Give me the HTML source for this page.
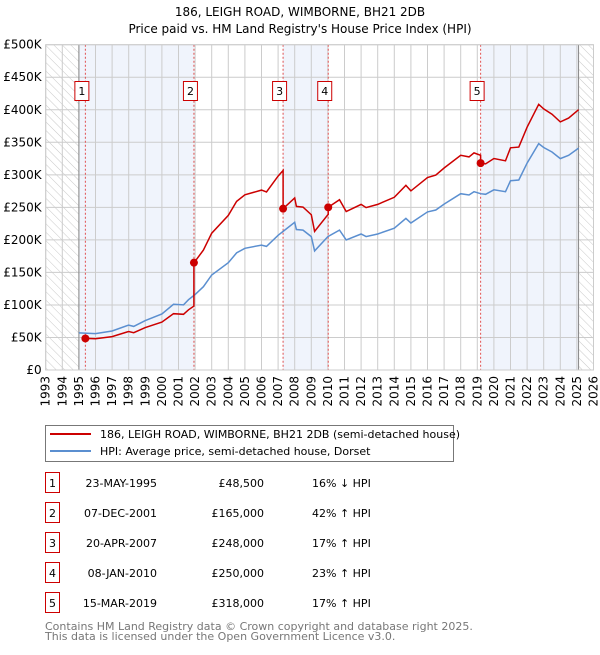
<!DOCTYPE html>
<html><head><meta charset="utf-8"><style>
body{margin:0;background:#fff;}
svg text{font-family:"DejaVu Sans","Liberation Sans",sans-serif;}
</style></head><body>
<svg id="c" width="600" height="650" viewBox="0 0 600 650" xmlns="http://www.w3.org/2000/svg">
<defs><pattern id="hatch" width="6" height="6" patternUnits="userSpaceOnUse" patternTransform="rotate(-45)"><line x1="0" y1="0" x2="0" y2="6" stroke="#bbb" stroke-width="0.8"/></pattern></defs>
<text x="300" y="16" text-anchor="middle" font-size="12">186, LEIGH ROAD, WIMBORNE, BH21 2DB</text>
<text x="300" y="33" text-anchor="middle" font-size="12">Price paid vs. HM Land Registry's House Price Index (HPI)</text>
<g id="plot"></g>
<g>
<rect x="45.5" y="425.5" width="408" height="36" fill="#fff" stroke="#777"/>
<line x1="50" y1="434" x2="91" y2="434" stroke="#cc0000" stroke-width="2"/>
<text x="100" y="438" font-size="11">186, LEIGH ROAD, WIMBORNE, BH21 2DB (semi-detached house)</text>
<line x1="50" y1="451" x2="91" y2="451" stroke="#5b8fd0" stroke-width="2"/>
<text x="100" y="455" font-size="11">HPI: Average price, semi-detached house, Dorset</text>
</g>
<g id="table"></g>
<text x="45" y="630" font-size="11" fill="#777">Contains HM Land Registry data © Crown copyright and database right 2025.</text>
<text x="45" y="640" font-size="11" fill="#777">This data is licensed under the Open Government Licence v3.0.</text>
</svg>
<script>
const hpiYears=[1995.0,1996.0,1997.0,1998.0,1998.3,1999.0,2000.0,2000.7,2001.3,2001.6,2002.0,2002.5,2003.0,2004.0,2004.5,2005.0,2006.0,2006.3,2007.0,2007.3,2008.0,2008.1,2008.5,2009.0,2009.2,2010.0,2010.7,2011.1,2012.0,2012.3,2013.0,2014.0,2014.7,2015.0,2016.0,2016.5,2017.0,2018.0,2018.5,2018.8,2019.2,2019.5,2020.0,2020.7,2021.0,2021.5,2022.0,2022.7,2023.0,2023.5,2024.0,2024.5,2025.1];
const hpiValues=[57,56,60,69,67,76,86,101,100,108,116,128,146,165,180,187,192,190,207,213,227,216,215,205,183,205,215,200,209,205,209,218,233,226,243,246,255,271,269,274,271,270,277,274,291,292,318,348,342,335,325,330,341];
const saleYears=[1995.39,2001.93,2007.30,2010.02,2019.20];
const salePrices=[48500,165000,248000,250000,318000];
const saleLabels=["1","2","3","4","5"];
const saleDates=["23-MAY-1995","07-DEC-2001","20-APR-2007","08-JAN-2010","15-MAR-2019"];
const salePriceText=["£48,500","£165,000","£248,000","£250,000","£318,000"];
const saleHpiText=["16% ↓ HPI","42% ↑ HPI","17% ↑ HPI","23% ↑ HPI","17% ↑ HPI"];
const yTicks=[0,50,100,150,200,250,300,350,400,450,500];
const yTickLabels=["£0","£50K","£100K","£150K","£200K","£250K","£300K","£350K","£400K","£450K","£500K"];
const xTicks=[1993,1994,1995,1996,1997,1998,1999,2000,2001,2002,2003,2004,2005,2006,2007,2008,2009,2010,2011,2012,2013,2014,2015,2016,2017,2018,2019,2020,2021,2022,2023,2024,2025,2026];

const NS="http://www.w3.org/2000/svg";
const L=45.7,R=593.5,T=44.7,B=370;
const X=y=>L+(y-1993)/(2026-1993)*(R-L);
const Y=v=>B-v/500*(B-T);
function mk(tag,attrs,parent){const e=document.createElementNS(NS,tag);for(const k in attrs)e.setAttribute(k,attrs[k]);parent.appendChild(e);return e;}
const plot=document.getElementById('plot');
function hpiAt(t){for(let i=0;i<hpiYears.length-1;i++){if(t<=hpiYears[i+1]){const f=(t-hpiYears[i])/(hpiYears[i+1]-hpiYears[i]);return hpiValues[i]+f*(hpiValues[i+1]-hpiValues[i]);}}return hpiValues[hpiValues.length-1];}
const dataEnd=hpiYears[hpiYears.length-1];
const bandStarts=[hpiYears[0],saleYears[2],saleYears[4]];
const bandEnds=[saleYears[1],saleYears[3],dataEnd];
for(let i=0;i<bandStarts.length;i++){
 const r=mk('rect',{x:X(bandStarts[i]),y:T,width:X(bandEnds[i])-X(bandStarts[i]),height:B-T,fill:'#f0f4fc'},plot);
 
 
}
const h1=mk('rect',{x:L,y:T,width:X(hpiYears[0])-L,height:B-T,fill:'url(#hatch)'},plot);


const h2=mk('rect',{x:X(dataEnd),y:T,width:R-X(dataEnd),height:B-T,fill:'url(#hatch)'},plot);


xTicks.forEach(t=>{
 mk('line',{x1:X(t),y1:T,x2:X(t),y2:B,stroke:'#ccc','stroke-width':1},plot);
 const tx=mk('text',{x:0,y:0,'font-size':12,'text-anchor':'end',transform:`translate(${X(t)+4},${B+6}) rotate(-90)`},plot);
 tx.textContent=t;
 
 
});
yTicks.forEach((v,i)=>{
 mk('line',{x1:L,y1:Y(v),x2:R,y2:Y(v),stroke:'#ccc','stroke-width':1},plot);
 const tx=mk('text',{x:L-4,y:Y(v)+4,'font-size':12,'text-anchor':'end'},plot);
 tx.textContent=yTickLabels[i];
 
 
});
mk('line',{x1:X(hpiYears[0]),y1:T,x2:X(hpiYears[0]),y2:B,stroke:'#888'},plot);
mk('line',{x1:X(dataEnd),y1:T,x2:X(dataEnd),y2:B,stroke:'#888'},plot);
saleYears.forEach((s,i)=>{
 mk('line',{x1:X(s),y1:T,x2:X(s),y2:B,stroke:'#e05050','stroke-dasharray':'2,2','stroke-width':1},plot);
 const g=mk('g',{},plot);
 
 
 mk('rect',{x:X(s)-10.5,y:81.5,width:14,height:19,fill:'#fff',stroke:'#cc0000'},g);
 const t=mk('text',{x:X(s)-3.5,y:95,'font-size':11,'text-anchor':'middle'},g);t.textContent=saleLabels[i];
});
let d='';hpiYears.forEach((t,i)=>{d+=(i?'L':'M')+X(t).toFixed(1)+','+Y(hpiValues[i]).toFixed(1);});
const hp=mk('path',{d:d,fill:'none',stroke:'#5b8fd0','stroke-width':1.5},plot);


let pd='';
const pts=[];
for(let k=0;k<saleYears.length;k++){
 const ratio=salePrices[k]/1000/hpiAt(saleYears[k]);
 const end=k<saleYears.length-1?saleYears[k+1]:dataEnd;
 pts.push([saleYears[k],salePrices[k]/1000]);
 hpiYears.forEach((t,i)=>{if(t>saleYears[k]&&t<end)pts.push([t,hpiValues[i]*ratio]);});
 pts.push([end,hpiAt(end)*ratio]);
}
pts.forEach((p,i)=>{pd+=(i?'L':'M')+X(p[0]).toFixed(1)+','+Y(p[1]).toFixed(1);});
const pp=mk('path',{d:pd,fill:'none',stroke:'#cc0000','stroke-width':1.5},plot);


saleYears.forEach((s,i)=>{
 const c=mk('circle',{cx:X(s),cy:Y(salePrices[i]/1000),r:4,fill:'#cc0000'},plot);
 
 
});
mk('rect',{x:L,y:T,width:R-L,height:B-T,fill:'none',stroke:'#ccc'},plot);
const tb=document.getElementById('table');
saleDates.forEach((dt,i)=>{
 const y=483+i*30;
 const g=mk('g',{},tb);
 
 
 mk('rect',{x:45.5,y:y-10.5,width:14,height:20,fill:'#fff',stroke:'#cc0000'},g);
 let t=mk('text',{x:52.5,y:y+4,'font-size':11,'text-anchor':'middle'},g);t.textContent=saleLabels[i];
 t=mk('text',{x:157,y:y+4,'font-size':11,'text-anchor':'end'},g);t.textContent=dt;
 t=mk('text',{x:264,y:y+4,'font-size':11,'text-anchor':'end'},g);t.textContent=salePriceText[i];
 t=mk('text',{x:312,y:y+4,'font-size':11},g);t.textContent=saleHpiText[i];
});
</script>
</body></html>
